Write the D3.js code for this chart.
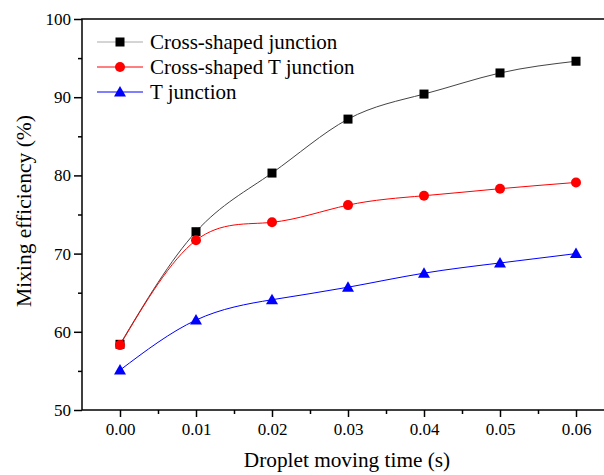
<!DOCTYPE html>
<html><head><meta charset="utf-8">
<script src="https://cdn.jsdelivr.net/npm/d3@7"></script>
<style>html,body{margin:0;padding:0;background:#fff;}svg{display:block;}</style>
</head><body>
<svg id="chart" width="604" height="475"></svg>
<script>
const times = [0.00, 0.01, 0.02, 0.03, 0.04, 0.05, 0.06];
const crossShaped = [58.4, 72.8, 80.3, 87.2, 90.4, 93.1, 94.6];
const crossShapedT = [58.3, 71.7, 74.0, 76.2, 77.4, 78.3, 79.1];
const tJunction = [55.1, 61.5, 64.1, 65.7, 67.5, 68.8, 70.0];
const seriesNames = ["Cross-shaped junction", "Cross-shaped T junction", "T junction"];
const xTicks = [0.00, 0.01, 0.02, 0.03, 0.04, 0.05, 0.06];
const yTicks = [50, 60, 70, 80, 90, 100];

const svg = d3.select("#chart");
const L = 82, T = 19, R = 614, B = 410;
const x = d3.scaleLinear().domain([-0.005, 0.065]).range([L, R]);
const y = d3.scaleLinear().domain([50, 100]).range([B, T]);
const font = "'Liberation Serif','Times New Roman',serif";

// frame
svg.append("rect").attr("x", L).attr("y", T).attr("width", R - L).attr("height", B - T)
  .attr("fill", "none").attr("stroke", "#000").attr("stroke-width", 1.5);

// x axis
const xAxis = d3.axisBottom(x).tickValues(xTicks).tickFormat(d3.format(".2f")).tickSize(7).tickPadding(6);
const gx = svg.append("g").attr("transform", `translate(0,${B})`).call(xAxis);
gx.select(".domain").remove();
gx.selectAll("line").attr("stroke", "#000").attr("stroke-width", 1.5);
gx.selectAll("text").attr("font-family", font).attr("font-size", 17).attr("fill", "#000");
const xMinor = d3.range(0, 7).map(i => 0.005 + i * 0.01);
svg.append("g").attr("transform", `translate(0,${B})`)
  .call(d3.axisBottom(x).tickValues(xMinor).tickSize(4).tickFormat(""))
  .call(g => g.select(".domain").remove())
  .selectAll("line").attr("stroke", "#000").attr("stroke-width", 1.5);

// y axis
const yAxis = d3.axisLeft(y).tickValues(yTicks).tickSize(8).tickPadding(3);
const gy = svg.append("g").attr("transform", `translate(${L},0)`).call(yAxis);
gy.select(".domain").remove();
gy.selectAll("line").attr("stroke", "#000").attr("stroke-width", 1.5);
gy.selectAll("text").attr("font-family", font).attr("font-size", 17).attr("fill", "#000");
const yMinor = [55, 65, 75, 85, 95];
svg.append("g").attr("transform", `translate(${L},0)`)
  .call(d3.axisLeft(y).tickValues(yMinor).tickSize(4).tickFormat(""))
  .call(g => g.select(".domain").remove())
  .selectAll("line").attr("stroke", "#000").attr("stroke-width", 1.5);

// axis titles
svg.append("text").attr("x", 347).attr("y", 467)
  .attr("text-anchor", "middle").attr("font-family", font).attr("font-size", 21.3).attr("fill", "#000")
  .text("Droplet moving time (s)");
svg.append("text").attr("transform", `translate(31,211) rotate(-90)`)
  .attr("text-anchor", "middle").attr("font-family", font).attr("font-size", 21.5).attr("fill", "#000")
  .text("Mixing efficiency (%)");

const series = [
  { name: seriesNames[0], values: crossShaped, color: "#000", line: "#444", shape: "square" },
  { name: seriesNames[1], values: crossShapedT, color: "#ff0000", line: "#ff0000", shape: "circle" },
  { name: seriesNames[2], values: tJunction, color: "#0000ff", line: "#0000ff", shape: "triangle" }
];

const lineGen = d3.line().x(d => x(d[0])).y(d => y(d[1])).curve(d3.curveNatural);

function drawMarker(g, shape, cx, cy, color) {
  if (shape === "square") {
    g.append("rect").attr("x", cx - 4.5).attr("y", cy - 4.5).attr("width", 9).attr("height", 9).attr("fill", color);
  } else if (shape === "circle") {
    g.append("circle").attr("cx", cx).attr("cy", cy).attr("r", 5).attr("fill", color);
  } else {
    g.append("path").attr("d", `M${cx},${cy - 6}L${cx + 6},${cy + 4.5}L${cx - 6},${cy + 4.5}Z`).attr("fill", color);
  }
}

series.forEach(s => {
  const pts = times.map((t, i) => [t, s.values[i]]);
  svg.append("path").attr("d", lineGen(pts)).attr("fill", "none").attr("stroke", s.line).attr("stroke-width", 1);
  const g = svg.append("g");
  pts.forEach(p => drawMarker(g, s.shape, x(p[0]), y(p[1]), s.color));
});

// legend
series.forEach((s, i) => {
  const ly = 42 + i * 25;
  svg.append("line").attr("x1", 97).attr("x2", 143).attr("y1", ly).attr("y2", ly)
    .attr("stroke", i === 0 ? "#aaa" : s.line).attr("stroke-width", 1);
  drawMarker(svg.append("g"), s.shape, 120, ly, s.color);
  svg.append("text").attr("x", 150).attr("y", ly + 7).attr("font-family", font).attr("font-size", 21)
    .attr("fill", "#000").text(s.name);
});
</script>
</body></html>
